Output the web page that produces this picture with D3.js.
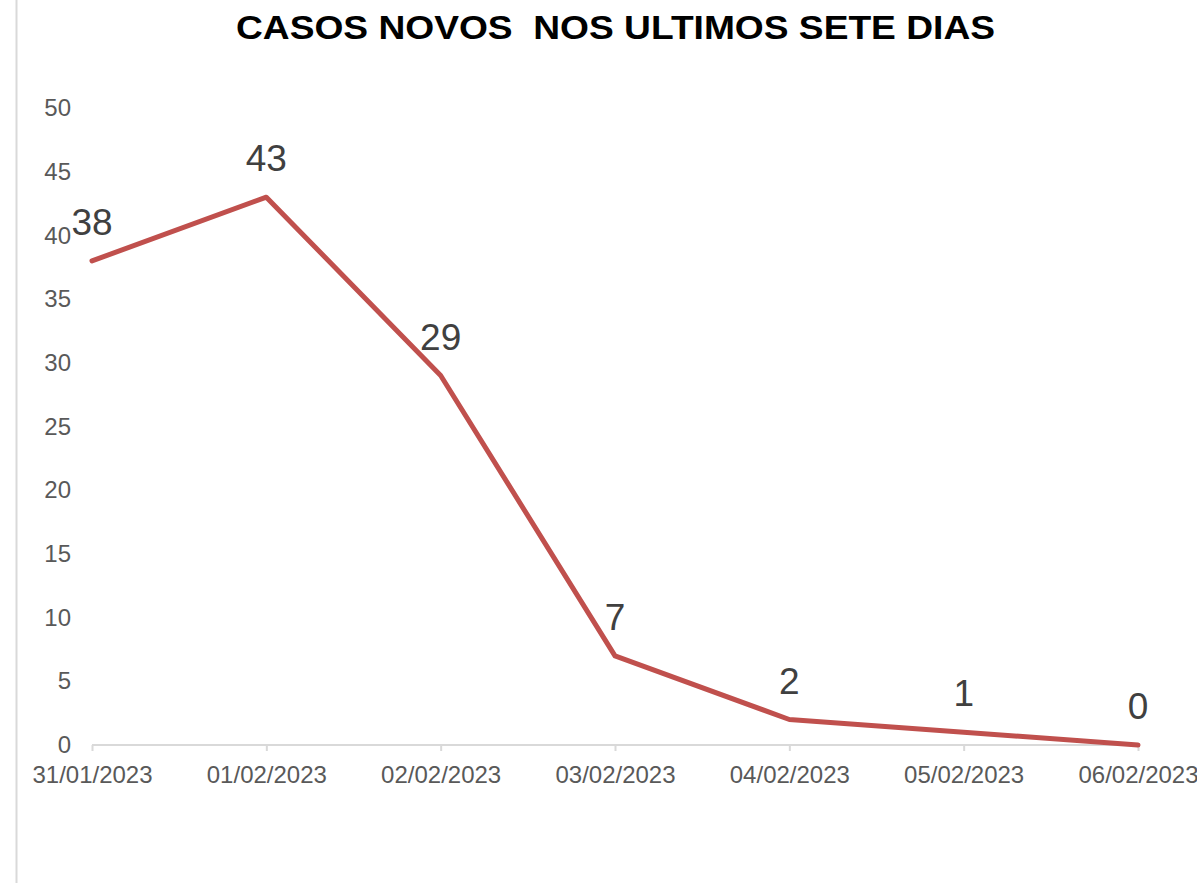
<!DOCTYPE html>
<html lang="pt">
<head>
    <meta charset="UTF-8">
    <title>Casos novos nos ultimos sete dias</title>
    <script src="https://d3js.org/d3.v7.min.js"></script>
    <style>
        body {
            margin: 0;
            background-color: #fff;
            font-family: "Liberation Sans", Arial, sans-serif;
        }
        .title {
            font-size: 33px;
            font-weight: bold;
            fill: #000;
            white-space: pre;
        }
        .tick-text {
            font-size: 24px;
            fill: #595959;
        }
        .data-label {
            font-size: 37px;
            fill: #404040;
        }
    </style>
</head>
<body>
    <div id="chart"></div>
    <script>
        // Dados
        const dates = ['31/01/2023', '01/02/2023', '02/02/2023', '03/02/2023', '04/02/2023', '05/02/2023', '06/02/2023'];
        const cases = [38, 43, 29, 7, 2, 1, 0];
        const yTicks = [0, 5, 10, 15, 20, 25, 30, 35, 40, 45, 50];

        const width = 1197,
            height = 884,
            plotLeft = 92,
            plotRight = 1138,
            plotTop = 108,
            plotBottom = 745;

        const svg = d3.select('#chart').append('svg')
            .attr('width', width)
            .attr('height', height);

        // borda cinza a esquerda
        svg.append('line')
            .attr('x1', 16.5).attr('x2', 16.5)
            .attr('y1', 0).attr('y2', 883)
            .attr('stroke', '#d9d9d9')
            .attr('stroke-width', 2);

        // titulo (mais largo que a fonte normal, por isso textLength)
        svg.append('text')
            .attr('class', 'title')
            .attr('x', 236)
            .attr('y', 38.5)
            .attr('textLength', 759)
            .attr('lengthAdjust', 'spacingAndGlyphs')
            .text('CASOS NOVOS  NOS ULTIMOS SETE DIAS');

        const x = d3.scalePoint().domain(dates).range([plotLeft, plotRight]).padding(0);
        const y = d3.scaleLinear().domain([0, 50]).range([plotBottom, plotTop]);

        // eixo Y (so os rotulos)
        const yAxis = svg.append('g')
            .attr('transform', `translate(${plotLeft}, 0)`)
            .call(d3.axisLeft(y).tickValues(yTicks).tickSize(0).tickPadding(21));
        yAxis.attr('font-family', null).attr('font-size', null);
        yAxis.select('.domain').remove();
        yAxis.selectAll('text').attr('class', 'tick-text').attr('fill', null);

        // eixo X
        const xAxis = svg.append('g')
            .attr('transform', `translate(0, ${plotBottom})`)
            .call(d3.axisBottom(x).tickSize(6).tickSizeOuter(0));
        xAxis.attr('font-family', null).attr('font-size', null);
        xAxis.select('.domain').attr('stroke', '#d9d9d9').attr('stroke-width', 2)
            .attr('d', `M${plotLeft},0H${plotRight}`);
        xAxis.selectAll('.tick line').attr('stroke', '#d9d9d9').attr('stroke-width', 2);
        xAxis.selectAll('text').attr('class', 'tick-text').attr('fill', null)
            .attr('y', 38).attr('dy', null);

        const line = d3.line()
            .x((d, i) => x(dates[i]))
            .y(d => y(d));

        svg.append('path')
            .datum(cases)
            .attr('d', line)
            .attr('fill', 'none')
            .attr('stroke', '#c0504d')
            .attr('stroke-width', 5)
            .attr('stroke-linejoin', 'round')
            .attr('stroke-linecap', 'round');

        svg.selectAll('.data-label')
            .data(cases)
            .enter()
            .append('text')
            .attr('class', 'data-label')
            .attr('x', (d, i) => x(dates[i]))
            .attr('y', d => y(d) - 26)
            .attr('text-anchor', 'middle')
            .text(d => d);
    </script>
</body>
</html>
